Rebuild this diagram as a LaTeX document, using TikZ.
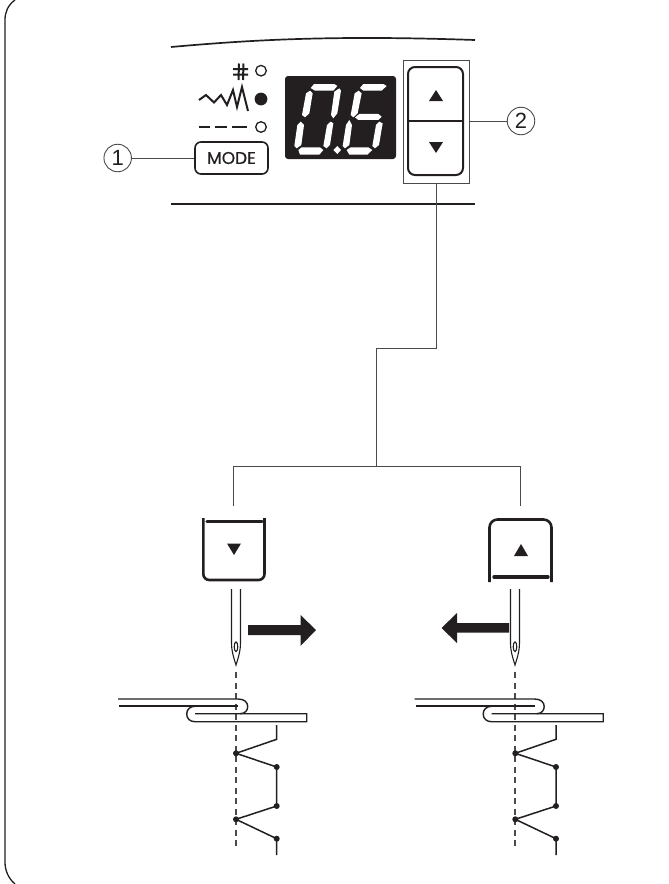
\documentclass[tikz,border=0pt]{standalone}
\usepackage{fontspec}
\setmainfont{Liberation Sans}
\newfontfamily\modefont[FakeBold=0.6]{Poppins}
\definecolor{ink}{HTML}{231F20}
\definecolor{leader}{HTML}{4A4A4A}
\usetikzlibrary{calc}
\tikzset{
  x=1pt,y=-1pt,
  ink line/.style={draw=ink,line width=1.7pt},
  leader line/.style={draw=leader,line width=0.9pt},
  callout/.style={circle,draw=leader,line width=0.9pt,minimum size=27.5pt,inner sep=0pt,font=\fontsize{22}{22}\selectfont,text=ink},
  seg/.style={fill=white,draw=none},
  tri/.style={fill=ink,draw=none},
  dotpt/.style={fill=ink,draw=none},
  guide/.style={draw=leader,line width=1.3pt,dash pattern=on 6pt off 4.5pt},
  fab/.style={draw=ink,line width=1.4pt},
  stitch/.style={draw=ink,line width=1.5pt},
  needle line/.style={draw=ink,line width=1.1pt},
  bar/.style={draw=ink,line width=3.4pt,line cap=round},
  block arrow/.style={fill=ink,draw=none},
}
\begin{document}
\begin{tikzpicture}
\useasboundingbox (0,0) rectangle (669,884);
% frame
\draw[draw=ink,line width=1.3pt] (15,0) .. controls (8,5) and (5,12) .. (5,20) -- (5,862) .. controls (5,870) and (8,878) .. (15,884);
% panel lines
\draw[ink line] (171,47) .. controls (250,40) and (330,35) .. (475,40);
\draw[ink line] (171,204) -- (475,204);
% mode symbols
\draw[draw=ink,line width=2pt] (233,69) -- (248,69) (233,74.5) -- (248,74.5) (239,63.5) -- (238.5,80) (243.5,63.5) -- (243,80);
\draw[draw=ink,line width=1.3pt] (261,70.7) circle (5.3);
\fill[ink] (261,99) circle (6.4);
\draw[draw=ink,line width=1.3pt] (261,127) circle (5.3);
\draw[draw=ink,line width=2pt] (199,100) -- (206,95) -- (214,102.5) -- (221,95) -- (227,105) -- (233,90) -- (237,107) -- (242,87) -- (248,111);
\draw[draw=ink,line width=2.4pt] (199,127) -- (210,127) (215,127) -- (227,127) (232,127) -- (247,127);
% mode button and callouts
\node[draw=ink,line width=1.6pt,rounded corners=6pt,minimum width=73pt,minimum height=32pt,inner sep=0pt,font=\modefont\fontsize{17}{17}\selectfont,text=ink] (mode) at (231.5,158) {MODE};
\node[callout] (c1) at (117.7,158) {1};
\draw[leader line] (c1) -- (mode);
% display
\fill[ink,rounded corners=3pt] (285,76) rectangle (396,159);
\begin{scope}[shift={(280,60)},x=0.3333pt,y=-0.3333pt]
\foreach \p in {
 {(92,84)--(102,72)--(163,72)--(172,78)--(160,92)--(105,92)},
 {(178,85)--(183,92)--(172,160)--(160,175)--(153,165)--(163,95)},
 {(90,92)--(98,100)--(88,160)--(75,172)--(66,165)--(78,100)},
 {(62,185)--(72,195)--(64,255)--(50,265)--(43,258)--(52,195)},
 {(152,185)--(160,190)--(150,255)--(140,265)--(130,258)--(141,195)},
 {(55,270)--(65,262)--(120,262)--(130,270)--(118,284)--(60,284)},
 {(240,84)--(250,72)--(310,72)--(320,78)--(305,92)--(250,92)},
 {(236,92)--(245,100)--(233,160)--(220,172)--(212,165)--(224,100)},
 {(225,172)--(238,162)--(295,162)--(305,170)--(295,180)--(235,180)},
 {(208,180)--(216,195)--(208,255)--(195,265)--(188,258)--(198,195)},
 {(298,185)--(308,190)--(297,255)--(285,265)--(277,258)--(288,195)},
 {(200,270)--(212,262)--(265,262)--(277,270)--(262,284)--(208,284)},
 {(172,258)--(183,270)--(172,282)--(160,270)}
}{\expandafter\fill\expandafter[\expandafter w\expandafter h\expandafter i\expandafter t\expandafter e\expandafter]\p--cycle;}
\end{scope}
% up/down keys
\node[draw=leader,line width=1pt,minimum width=66pt,minimum height=123pt,inner sep=0pt] (keys) at (436,121.5) {};
\draw[draw=ink,line width=2pt,rounded corners=7pt] (408,67) rectangle (463,175);
\draw[draw=ink,line width=1.7pt] (408,121) -- (463,121);
\fill[tri] (436,90) -- (443,101) -- (429,101) -- cycle;
\fill[tri] (429,142) -- (443,142) -- (436,153) -- cycle;
\node[callout] (c2) at (521,121) {2};
\draw[leader line] (keys.east |- c2) -- (c2);
% tree connector
\coordinate (step1) at (436,348);
\coordinate (step2) at (376,348);
\coordinate (fork) at (376,466);
\coordinate (forkL) at (233.7,466);
\coordinate (forkR) at (520.3,466);
\coordinate (endL) at (233.7,506);
\coordinate (endR) at (520.3,506);
\draw[leader line] (keys.south) -- (step1) -- (step2) -- (fork);
\draw[leader line] (endL) -- (forkL) -- (forkR) -- (endR);
% left key
\draw[draw=ink,line width=2.6pt,rounded corners=6pt] (203.3,518) -- (203.3,580) -- (264.5,580) -- (264.5,518);
\draw[bar] (207,521.7) -- (262,521.7);
\fill[tri] (227,543.5) -- (241,543.5) -- (234,555) -- cycle;
% right key
\draw[draw=ink,line width=2.6pt,rounded corners=8pt] (489.5,582) -- (489.5,519.5) -- (551.5,519.5) -- (551.5,582);
\draw[bar] (494,577) -- (548,577);
\fill[tri] (521,544) -- (528,556) -- (514,556) -- cycle;
% needles
\foreach \nx in {236,515}{
  \draw[needle line] (\nx-4.5,589) -- (\nx-4.5,643) .. controls (\nx-4.5,652) and (\nx-1.5,660) .. (\nx,665) .. controls (\nx+1.5,660) and (\nx+4.5,652) .. (\nx+4.5,643) -- (\nx+4.5,589);
  \draw[needle line] (\nx,646.7) ellipse (1.8 and 4.8);
  \draw[guide] (\nx,672) -- (\nx,847);
}
% arrows
\fill[block arrow] (248,625) -- (300.5,625) -- (300.5,615) -- (316,630) -- (300.5,646) -- (300.5,635) -- (248,635) -- cycle;
\fill[block arrow] (509,623) -- (457,623) -- (457,613) -- (441.5,628) -- (457,643) -- (457,632.5) -- (509,632.5) -- cycle;
% fabric
\foreach \s in {0,296.5}{
  \begin{scope}[xshift=\s pt]
  \draw[fab] (118,699) -- (238,699) .. controls (244,699) and (247.7,702) .. (247.7,706.5) .. controls (247.7,710.5) and (245,713.7) .. (240,713.7);
  \draw[fab] (119,706) -- (238,706);
  \draw[fab] (195,713.7) -- (306.7,713.7) -- (306.7,721.7) -- (195,721.7) .. controls (190,721.7) and (186.7,718.5) .. (186.7,714) .. controls (186.7,709.5) and (190,706.3) .. (195,706.3);
  \end{scope}
}
% stitches
\foreach \s in {0,279.3}{
  \begin{scope}[xshift=\s pt]
  \draw[stitch] (276.7,725) -- (276.7,739.3) -- (236,753.3) -- (276.7,767) -- (276.7,806) -- (236,819.3) -- (276.7,838.7) -- (276.7,855);
  \foreach \q in {(236,753.3),(276.7,767),(276.7,806),(236,819.3),(276.7,838.7)}{\fill[dotpt] \q circle (3);}
  \end{scope}
}
\end{tikzpicture}
\end{document}
